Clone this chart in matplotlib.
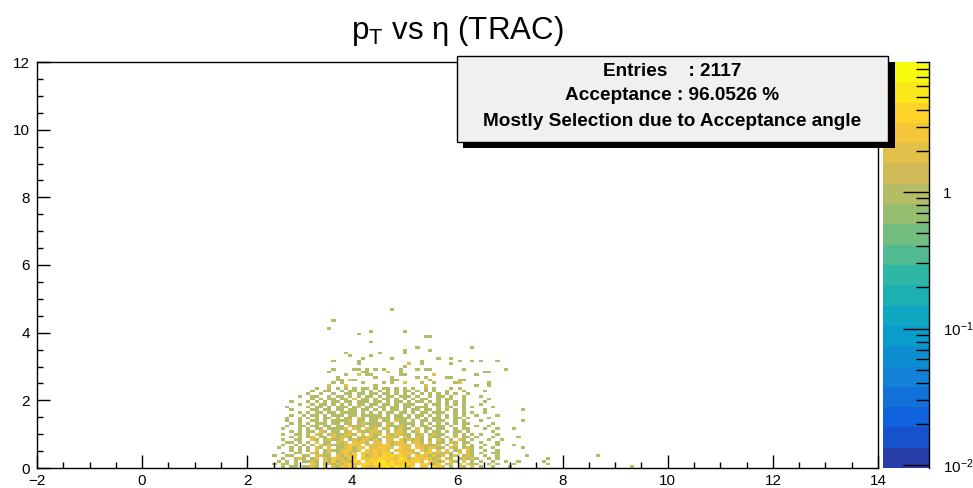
import numpy as np
import matplotlib
matplotlib.use('Agg')
import matplotlib.pyplot as plt
from matplotlib.colors import LinearSegmentedColormap, ListedColormap, LogNorm
from matplotlib.patches import Rectangle
from matplotlib.ticker import MultipleLocator, FixedLocator, FixedFormatter, LogLocator, NullFormatter

plt.rcParams['font.family'] = ['Liberation Sans', 'DejaVu Sans']
plt.rcParams['mathtext.fontset'] = 'custom'
plt.rcParams['mathtext.rm'] = 'Liberation Sans'
plt.rcParams['mathtext.it'] = 'Liberation Sans'

# binning of the TH2 (eta x pT)
X_MIN, X_MAX, NX = -2.0, 14.0, 200
Y_MIN, Y_MAX, NY = 0.0, 12.0, 150

# dense part: one string per pT bin (0.08 wide),
# top row = pT 2.32-2.40, last row = pT 0-0.08; first column starts at eta 2.48
grid_first_eta = 2.48
grid_rows = [
    "........ ..1..1.1 .1.1.11. 1.11.1.1 .1..1.1. ..1.1... ........ ........ ........",
    "........ .1..11.. 1.11.1.1 .1.1.1.1 1.1.1.1. .1...1.. ..1..... ........ ........",
    "........ 1..1..1. .11.11.1 1.11.1.1 .1.1.1.1 .1.1..1. ........ ........ ........",
    "......1. .11..1.1 1.1.1.11 .1.11.11 1.1..1.1 1.1..1.. .1...... ........ ........",
    "........ .1.1.11. 11.2.11. 1.11.1.1 .1.11..1 .11..1.. ...1.... ........ ........",
    "....1... 1.1.1.11 .11.111. 11.1.11. 1.11.1.1 .1.1.1.. ..1..... ........ ........",
    "......1. .1.11.1. 1.1.11.1 1.11.1.1 11..1.11 .1.1.1.. .1...... ........ ........",
    "...1.... 1.11.1.1 11.12.11 .11.11.1 1.111..1 .21..1.1 ....1... ........ ........",
    "....1... .11.11.1 1.11.11. 1.1.11.1 .11.11.1 .1.1.1.. ..1..... ...1.... ........",
    "......1. 1.11.11. 1111.1.1 .1.11.11 .1.11.11 1..1.1.1 ..1..... ........ ........",
    "....1..1 .11.1.11 1.11.111 11.1.11. 1.11.1.1 .1.1.1.. 1....1.. ........ ........",
    "...1..1. 1.1.11.1 .11.21.1 1211.111 1.1.1.11 .1.11.1. ...1.... ........ ........",
    "...1..1. .11.1.11 112.11.1 1.11.211 .1.11.11 1..1.1.. .1...... ...1.... ........",
    "....1.1. 1.111.11 .11.1211 11.21.11 11.1.1.1 .1.1.11. ....1... ........ ........",
    "...1..11 .11.11.1 1.2111.1 11.11121 .1.11.11 1.1..1.. 1..1.... ........ ........",
    "..1...1. 1.11.111 12.21.21 2.12.121 1.2.11.1 1..1.11. ..1..1.. .1...... ........",
    "....1.1. 11.21.11 .12.2112 21.1.221 .12.1.11 .1.11.1. ....1... ........ ........",
    "..1..11. 1.21.121 1221.2.2 12.21221 1.12.121 1..1.1.1 .1...1.. ........ ........",
    "....1.1. 12.11.21 221.2122 1.2221.2 1.21.211 .1.2.11. 1...1... ..1..... ........",
    "..1..11. .21.1211 2.121221 21.22.31 2121.1.2 1.1.21.1 ...1..1. ........ ........",
    "...11.1. 1.2.11.2 12.2231. 22.21231 .221.2.1 1.21.11. .1...1.. ........ ........",
    "..1..1.1 .1.21211 12332.22 22331223 2.222112 .1.2.1.1 ..1..1.. .1...... ........",
    ".1..1.1. 1.21.2.1 123132.2 23322.32 2.321221 1.21.121 .1..1... ...1.... ........",
    "....1.1. 1.2.1211 23312.32 3232.332 22.313.2 .2.12.21 ..1..1.. ........ ........",
    "..1..11. .21.12.1 2313.332 32441.33 321.3312 121.2.21 .1..11.. ........ ........",
    "1..11..1 1.2211.2 1323.412 32434342 2.232131 2.12.121 ..1..1.. ....1... ........",
    "..1..121 .12.2132 2134.323 34443254 13323212 .21.1212 1..1.1.. ........ .1......",
    ".1.1.1.1 121.2131 22143.34 45534343 3342.321 2.21.2.1 .1..1..1 ..1..... 1.......",
    "1.11.1.. .31.1212 13423442 54646334 42.34213 .12.2.21 1..1.1.. .1...... .1......",
    "..1.11.1 121.3.21 3242.432 34653645 24.33.42 2.1.21.2 .1..1... 1....... ........",
]

# sparse entries outside the dense block (eta, pT, content)
sparse_eta = [3.63, 3.56, 4.10, 3.86, 3.96, 3.63, 4.10, 4.10, 3.63, 3.56, 4.00, 4.08,
              4.10, 3.86, 3.73, 3.73, 3.81, 3.96, 4.04, 3.63, 3.80, 3.55, 3.86,
              4.75, 4.37, 4.98, 5.36, 5.44, 4.37, 5.23, 5.48, 4.98, 4.98, 4.52, 4.37,
              4.20, 4.75, 5.65, 5.88, 5.30, 5.06, 5.30, 5.88, 4.98, 4.28, 4.28, 4.60,
              4.90, 5.40, 5.48, 4.45, 4.68, 4.90, 5.23, 4.20, 4.30, 4.38, 5.55, 5.55,
              4.92, 5.00, 4.75, 4.45, 5.23, 5.40, 5.45, 5.80, 5.88, 4.72, 4.80, 4.20,
              5.29, 5.55, 4.98, 4.64, 4.72, 4.45, 5.40,
              6.26, 6.03, 6.26, 6.40, 6.75, 6.90, 6.10, 6.50, 6.58, 6.33, 6.03, 6.11,
              6.07, 5.96, 6.04, 6.58, 6.58, 6.33,
              8.67, 9.32]
sparse_pt = [4.35, 4.10, 3.93, 3.37, 3.30, 3.19, 3.19, 3.07, 2.90, 2.84, 2.90, 2.90,
             2.80, 2.78, 2.70, 2.60, 2.60, 2.60, 2.60, 2.50, 2.48, 2.44, 2.44,
             4.70, 4.00, 4.00, 3.87, 3.87, 3.73, 3.55, 3.49, 3.49, 3.43, 3.40, 3.30,
             3.25, 3.25, 3.25, 3.25, 3.19, 3.07, 3.04, 3.07, 3.00, 2.95, 2.87, 2.95,
             2.95, 2.95, 2.95, 2.90, 2.84, 2.84, 2.90, 2.84, 2.78, 2.78, 2.80, 2.74,
             2.72, 2.72, 2.70, 2.66, 2.66, 2.66, 2.62, 2.70, 2.64, 2.60, 2.60, 2.54,
             2.50, 2.54, 2.50, 2.48, 2.48, 2.44, 2.44,
             3.55, 3.13, 3.19, 3.19, 3.19, 2.95, 2.90, 2.84, 2.84, 2.78, 2.60, 2.60,
             2.54, 2.48, 2.48, 2.48, 2.44, 2.44,
             0.38, 0.06]
sparse_n = [1, 1, 1, 1, 1, 1, 1, 1, 1, 1, 1, 1,
            2, 1, 1, 1, 1, 2, 1, 1, 1, 2, 2,
            1, 1, 1, 1, 1, 1, 1, 1, 1, 1, 1, 1,
            1, 1, 1, 1, 1, 2, 1, 1, 1, 1, 1, 1,
            1, 1, 1, 1, 2, 1, 1, 1, 1, 1, 1, 1,
            1, 1, 1, 1, 1, 1, 1, 1, 1, 1, 1, 1,
            1, 1, 2, 1, 1, 1, 2,
            1, 1, 1, 1, 1, 1, 1, 1, 1, 1, 1, 1,
            1, 1, 1, 1, 1, 1,
            1, 1]

# ROOT kBird palette
bird_stops = [0.0, 0.125, 0.25, 0.375, 0.5, 0.625, 0.75, 0.875, 1.0]
bird_r = [0.2082, 0.0592, 0.0780, 0.0232, 0.1802, 0.5301, 0.8186, 0.9956, 0.9764]
bird_g = [0.1664, 0.3599, 0.5041, 0.6419, 0.7178, 0.7492, 0.7328, 0.7862, 0.9832]
bird_b = [0.5293, 0.8684, 0.8385, 0.7914, 0.6425, 0.4662, 0.3499, 0.1968, 0.0539]
N_CONTOURS = 20
Z_MIN, Z_MAX = 0.0095, 9.0

bird = LinearSegmentedColormap.from_list(
    'bird', list(zip(bird_stops, zip(bird_r, bird_g, bird_b))), N=255)
levels = [bird(int((i + 0.99) * 255 / N_CONTOURS) / 254) for i in range(N_CONTOURS)]
cmap = ListedColormap(levels)

# fill the histogram
xedges = np.linspace(X_MIN, X_MAX, NX + 1)
yedges = np.linspace(Y_MIN, Y_MAX, NY + 1)
H = np.zeros((NX, NY))
col0 = int(round((grid_first_eta - X_MIN) / (xedges[1] - xedges[0])))
for r, row in enumerate(reversed(grid_rows)):
    for k, ch in enumerate(row.replace(' ', '')):
        if ch != '.':
            H[col0 + k, r] += int(ch)
Hs, _, _ = np.histogram2d(sparse_eta, sparse_pt, bins=[xedges, yedges], weights=sparse_n)
H += Hs

fig = plt.figure(figsize=(9.73, 4.88), dpi=100)
ax = fig.add_axes([37 / 973, 20 / 488, 841 / 973, 406 / 488])
cax = fig.add_axes([883 / 973, 20 / 488, 46 / 973, 406 / 488])

mesh = ax.pcolormesh(xedges, yedges, np.ma.masked_equal(H.T, 0),
                     cmap=cmap, norm=LogNorm(vmin=Z_MIN, vmax=Z_MAX))
ax.set_xlim(X_MIN, X_MAX)
ax.set_ylim(Y_MIN, Y_MAX)
ax.xaxis.set_major_locator(MultipleLocator(2))
ax.xaxis.set_minor_locator(MultipleLocator(0.5))
ax.yaxis.set_major_locator(MultipleLocator(2))
ax.yaxis.set_minor_locator(MultipleLocator(0.5))
ax.tick_params(which='both', direction='in', top=False, right=False,
               labelsize=11, width=1, color='black')
ax.tick_params(which='major', length=9.5)
ax.tick_params(which='minor', length=4.5)
ax.tick_params(axis='x', pad=4)
ax.tick_params(axis='y', pad=5)
for sp in ax.spines.values():
    sp.set_linewidth(1)

# palette axis
cb = fig.colorbar(mesh, cax=cax)
cb.outline.set_visible(False)
cax.plot([1, 1], [0, 1], transform=cax.transAxes, color='black', lw=1, clip_on=False)
cax.yaxis.set_ticks_position('right')
cax.yaxis.set_major_locator(FixedLocator([0.01, 0.1, 1]))
cax.yaxis.set_major_formatter(FixedFormatter(['10$^{-2}$', '10$^{-1}$', '1']))
cax.yaxis.set_minor_locator(LogLocator(base=10, subs=np.arange(2, 10)))
cax.yaxis.set_minor_formatter(NullFormatter())
cax.tick_params(which='both', direction='in', labelsize=11, width=1)
cax.tick_params(which='major', length=19, pad=10)
cax.tick_params(which='minor', length=9.5)

# title
fig.text(457 / 973, 1 - 31 / 488, r'p$_{\mathregular{T}}$ vs η (TRAC)',
         ha='center', va='center', fontsize=22.5)

# stats box with shadow
fig.patches.append(Rectangle((463 / 973, 1 - 148 / 488), 432 / 973, 86 / 488,
                             transform=fig.transFigure, facecolor='black',
                             edgecolor='none', zorder=5))
fig.patches.append(Rectangle((457 / 973, 1 - 142 / 488), 431 / 973, 86 / 488,
                             transform=fig.transFigure, facecolor='#f0f0f0',
                             edgecolor='black', lw=1, zorder=6))
stat_lines = ['Entries    : 2117', 'Acceptance : 96.0526 %',
              'Mostly Selection due to Acceptance angle']
stat_y = [71, 95, 121]
for txt, yy in zip(stat_lines, stat_y):
    fig.text(672 / 973, 1 - yy / 488, txt, ha='center', va='center',
             fontsize=13.7, fontweight='bold', zorder=7)

fig.savefig('out.png', dpi=100)
